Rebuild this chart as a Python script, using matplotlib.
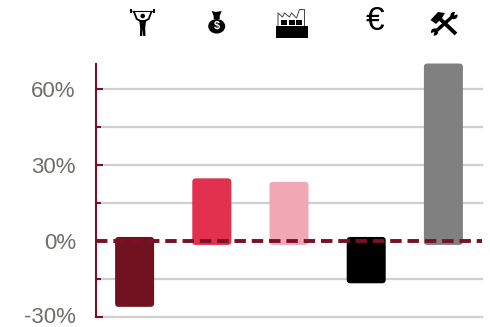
import matplotlib
matplotlib.use("Agg")
import matplotlib.pyplot as plt
from matplotlib.patches import FancyBboxPatch, Polygon, Rectangle, Circle, Ellipse
from matplotlib.ticker import FixedLocator
from matplotlib.transforms import ScaledTranslation

W, H = 490, 327

values = [-26, 24.7, 23.3, -16.7, 70]
bar_colors = ["#701220", "#E2304F", "#F2A7B5", "#000000", "#808080"]
major_ticks = [-30, 0, 30, 60]
minor_ticks = [-15, 15, 45]
tick_labels = ["-30%", "0%", "30%", "60%"]

MAROON = "#7A1028"
GRID = "#CFCFCC"
LABEL = "#6E6E6A"

plt.rcParams["font.family"] = ["Liberation Sans", "DejaVu Sans"]

fig = plt.figure(figsize=(W / 100, H / 100), dpi=100)
ax = fig.add_axes([96 / W, 1 - 317 / H, 386 / W, 253.5 / H])
ax.set_xlim(-0.5, 4.5)
ax.set_ylim(-30, 70)

for s in ["top", "right", "bottom"]:
    ax.spines[s].set_visible(False)
ax.spines["left"].set_color(MAROON)
ax.spines["left"].set_linewidth(1.5)

ax.set_xticks([])
ax.set_yticks(major_ticks)
ax.set_yticklabels(tick_labels, fontsize=16, color=LABEL)
ax.yaxis.set_minor_locator(FixedLocator(minor_ticks))
ax.tick_params(axis="y", which="major", direction="in", length=5, width=1.5, color=MAROON, pad=14.5)
ax.tick_params(axis="y", which="minor", direction="in", length=3.5, width=1.5, color=MAROON)

# keep the lowest label inside the canvas
low = ax.get_yticklabels()[0]
low.set_transform(low.get_transform() + ScaledTranslation(0, 2 / 100, fig.dpi_scale_trans))

for t in major_ticks + minor_ticks:
    if t != 0:
        ax.axhline(t, color=GRID, lw=1.6, zorder=1, clip_on=False)

# rounded bars, overshooting the baseline a little on the far side
px_x = 386 / 5
px_y = 253.5 / 100
overshoot = 4 / px_y
bar_w = 39 / px_x
for i, v in enumerate(values):
    lo = min(v, -overshoot if v > 0 else overshoot)
    hi = max(v, -overshoot if v > 0 else overshoot)
    ax.add_patch(FancyBboxPatch((i - bar_w / 2, lo), bar_w, hi - lo,
                                boxstyle="round,pad=0,rounding_size=%f" % (3.5 / px_x),
                                mutation_aspect=px_x / px_y,
                                fc=bar_colors[i], ec="none", zorder=2, clip_on=False))

ax.axhline(0, color=MAROON, lw=2.8, dashes=(2.95, 1.5), zorder=3, clip_on=False)

# header icons, sketched on an overlay in pixel coordinates
ic = fig.add_axes([0, 0, 1, 1], facecolor="none")
ic.set_xlim(0, W)
ic.set_ylim(H, 0)
ic.axis("off")

def poly(pts, fc="black", z=1):
    ic.add_patch(Polygon(pts, closed=True, fc=fc, ec="none", zorder=z))

def line(pts, lw=1.5, color="black", z=2):
    ic.plot([p[0] for p in pts], [p[1] for p in pts], color=color, lw=lw, solid_capstyle="butt", zorder=z)

def lifter(cx):
    line([(cx - 11, 10.5), (cx + 11, 10.5)], lw=0.8)
    line([(cx - 11.5, 8.5), (cx - 11.5, 13)], lw=1.5)
    line([(cx + 11.5, 8.5), (cx + 11.5, 13)], lw=1.5)
    line([(cx - 9, 11), (cx - 6, 19), (cx - 2, 21)], lw=1.3)
    line([(cx + 9, 11), (cx + 6, 19), (cx + 2, 21)], lw=1.3)
    ic.add_patch(Circle((cx, 16), 2.3, fc="black", ec="none"))
    poly([(cx - 3.5, 20), (cx + 3.5, 20), (cx + 2.5, 28), (cx + 2.8, 36), (cx + 0.5, 36), (cx, 29),
          (cx - 0.5, 36), (cx - 2.8, 36), (cx - 2.5, 28)])

def money_bag(cx):
    poly([(cx - 5, 11), (cx - 1, 12), (cx + 5, 11), (cx + 3, 16), (cx + 3, 19), (cx - 3, 19), (cx - 3, 16)])
    ic.add_patch(Ellipse((cx, 26.3), 17, 14.5, fc="black", ec="none"))
    ic.text(cx, 26.5, "$", color="white", fontsize=8, ha="center", va="center", fontweight="bold", zorder=3)

def factory(cx):
    ic.add_patch(Rectangle((cx - 16, 26), 32, 12, fc="black", ec="none"))
    line([(cx - 13.5, 26), (cx - 13.5, 13), (cx - 9, 17), (cx - 7, 13), (cx - 2, 17), (cx + 0, 13), (cx + 5, 18),
          (cx + 8, 9.5), (cx + 13, 9.5), (cx + 13, 26)], lw=0.7, color="#444444")
    for x0, x1 in [(-11, -4.5), (-3, 3), (4.5, 10)]:
        ic.add_patch(Rectangle((cx + x0, 20), x1 - x0, 4.5, fc="black", ec="none"))

def tools(cx):
    line([(cx - 8, 15), (cx + 12, 34)], lw=2.8)
    line([(cx + 9, 16), (cx - 9, 32)], lw=2.5)
    poly([(cx - 13.5, 20), (cx - 6, 12), (cx + 1, 13), (cx - 2, 18), (cx - 8, 24)], z=3)
    for ex, ey, nx, ny in [(cx + 10, 15.5, 1, -1), (cx - 9.5, 32, -1, 1)]:
        ic.add_patch(Circle((ex, ey), 3.6, fc="black", ec="none", zorder=3))
        poly([(ex, ey), (ex + nx * 5, ey + ny * 1.5), (ex + nx * 1.5, ey + ny * 5)], fc="white", z=4)

lifter(142.7)
money_bag(216.7)
factory(291.5)
ic.text(375.3, 22, "€", fontsize=24, color="black", ha="center", va="center")
tools(444)

fig.savefig("out.png", dpi=100)
